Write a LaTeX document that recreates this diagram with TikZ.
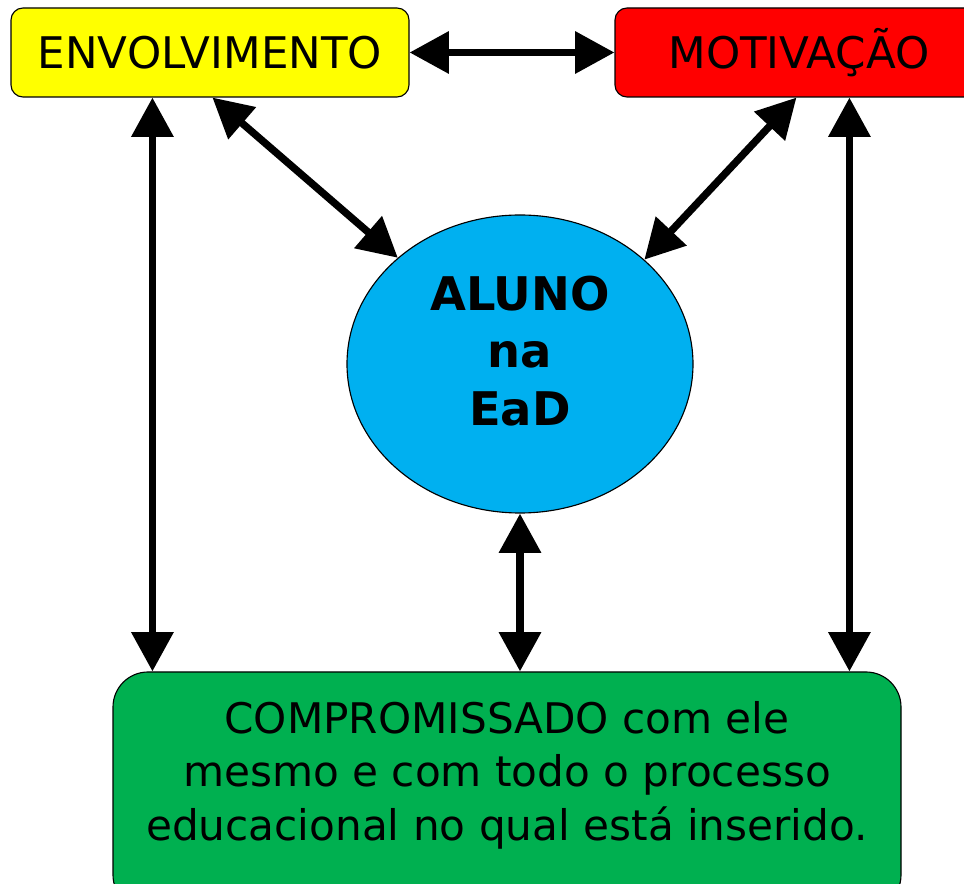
\documentclass[tikz,border=0pt]{standalone}
\usepackage{fontspec}
\setmainfont{DejaVu Sans}
\usetikzlibrary{arrows.meta,shapes.geometric}

\definecolor{envyellow}{HTML}{FFFF00}
\definecolor{motred}{HTML}{FF0000}
\definecolor{alunoblue}{HTML}{00B0F0}
\definecolor{compgreen}{HTML}{00B050}

\begin{document}
\begin{tikzpicture}[
  box/.style={draw,line width=0.8pt,rounded corners=0.3cm,inner sep=0pt,
    font=\fontsize{31}{38}\selectfont},
  dblarrow/.style={{Triangle[length=28pt,width=29pt]}-{Triangle[length=28pt,width=29pt]},line width=5.25pt}]

\useasboundingbox (0,0) rectangle (24.1,22.075);
\clip (0,0) rectangle (24.1,22.075);

\node[box,fill=envyellow,minimum width=9.95cm,minimum height=2.225cm] (env) at (5.25,20.7625) {ENVOLVIMENTO};
\node[box,fill=motred,minimum width=9.2cm,minimum height=2.225cm] (mot) at (19.975,20.7625) {MOTIVAÇÃO};
\node[draw,line width=0.8pt,ellipse,fill=alunoblue,minimum width=8.65cm,minimum height=7.45cm,inner sep=0pt] (aluno) at (13.0,12.975) {};
\node[align=center,font=\fontsize{33}{41}\selectfont\bfseries] (alunotext) at (13.0,13.3) {ALUNO\\na\\EaD};
\node[box,rounded corners=0.875cm,fill=compgreen,minimum width=19.7cm,minimum height=5.95cm] (comp) at (12.675,2.3) {};
\node[align=center,font=\fontsize{30}{38}\selectfont] (comptext) at (12.675,2.7) {COMPROMISSADO com ele\\mesmo e com todo o processo\\educacional no qual está inserido.};

% ligacoes
\draw[dblarrow] (env.east) -- (mot.west);
\draw[dblarrow] ([xshift=5.05cm]env.south west) -- (aluno.139);
\draw[dblarrow] ([xshift=4.55cm]mot.south west) -- (aluno.40);
\draw[dblarrow] ([xshift=3.55cm]env.south west) -- ([xshift=3.55cm]env.south west |- comp.north);
\draw[dblarrow] ([xshift=5.875cm]mot.south west) -- ([xshift=5.875cm]mot.south west |- comp.north);
\draw[dblarrow] (aluno.south) -- (aluno.south |- comp.north);
\end{tikzpicture}
\end{document}
